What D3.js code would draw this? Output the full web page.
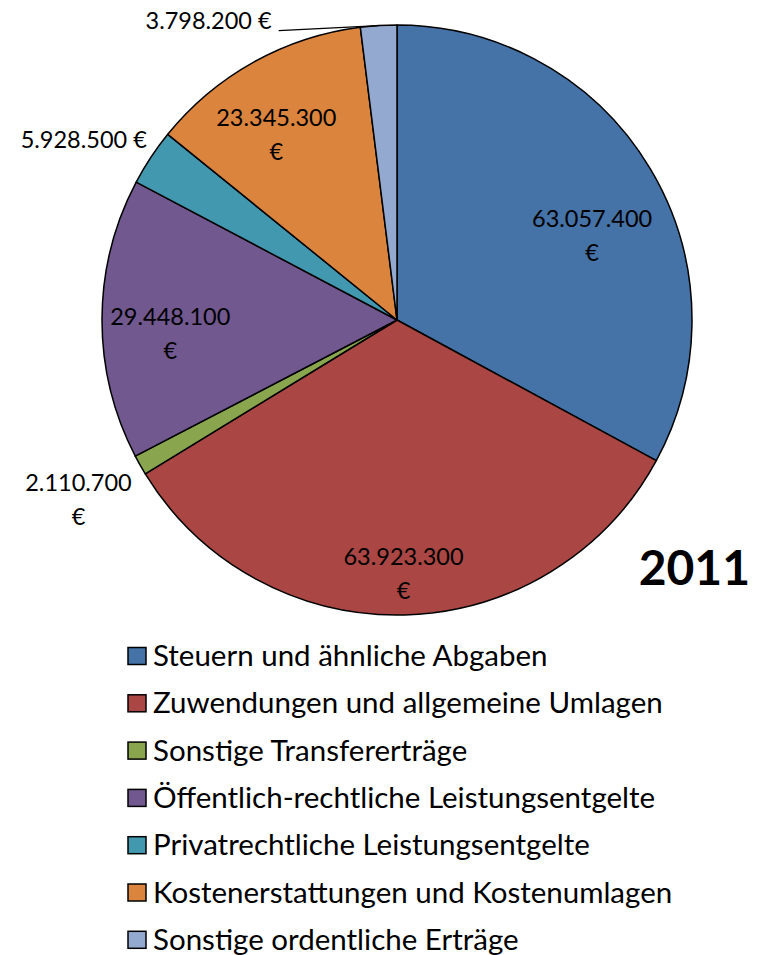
<!DOCTYPE html>
<html><head><meta charset="utf-8">
<script src="https://cdn.jsdelivr.net/npm/d3@7/dist/d3.min.js"></script>
<style>html,body{margin:0;padding:0;background:#fff;}svg{display:block;font-family:Lato,"Open Sans",sans-serif;}</style>
</head><body>
<script>
const categories = ["Steuern und ähnliche Abgaben","Zuwendungen und allgemeine Umlagen","Sonstige Transfererträge","Öffentlich-rechtliche Leistungsentgelte","Privatrechtliche Leistungsentgelte","Kostenerstattungen und Kostenumlagen","Sonstige ordentliche Erträge"];
const values = [63057400, 63923300, 2110700, 29448100, 5928500, 23345300, 3798200];
const colors = ["#4572A7","#AA4643","#89A54E","#71588F","#4198AF","#DB843D","#93A9CF"];
const year = "2011";
// label layout: placement mode, radius factor, angle shift (deg)
const labelLayout = [
  {mode:"in", r:0.72, da:7.5},
  {mode:"in", r:0.86, da:0},
  {mode:"out2", r:1.24, da:0},
  {mode:"in", r:0.77, da:-3.8},
  {mode:"outR", r:1.0, da:0},
  {mode:"in", r:0.75, da:-4},
  {mode:"leader", r:1.0, da:0}
];

const W=765,H=955, cx=397, cy=320, R=295;
const fmt = v => d3.format(",")(v).replace(/,/g,".");
const svg = d3.select("body").append("svg").attr("width",W).attr("height",H);
const pie = d3.pie().sort(null).value(d=>d)(values);
const arc = d3.arc().innerRadius(0).outerRadius(R);
const g = svg.append("g").attr("transform",`translate(${cx},${cy})`);
g.selectAll("path").data(pie).join("path")
  .attr("d",arc).attr("fill",(d,i)=>colors[i])
  .attr("stroke","#000").attr("stroke-width",1.5).attr("stroke-linejoin","round");

const pt = (a,r)=>[Math.sin(a)*r, -Math.cos(a)*r];
const fs = 23.5;
pie.forEach((d,i)=>{
  const L = labelLayout[i];
  const a = (d.startAngle+d.endAngle)/2 + L.da*Math.PI/180;
  const txt = fmt(values[i]);
  if(L.mode==="in"||L.mode==="out2"){
    const [x,y]=pt(a,R*L.r);
    const t=g.append("text").attr("text-anchor","middle").attr("font-size",fs).attr("fill","#000");
    t.append("tspan").attr("x",x).attr("y",y-17+8).text(txt);
    t.append("tspan").attr("x",x).attr("y",y+17+8).text("€");
  } else if(L.mode==="outR"){
    const [x,y]=pt(a,R);
    g.append("text").attr("text-anchor","end").attr("font-size",fs)
      .attr("x",x-4).attr("y",y-17+8).text(txt+" €");
  } else {
    const [x,y]=pt(a,R);
    const lx = x-100, ly = y+5;
    g.append("path").attr("d",`M${x},${y}L${lx},${ly}`).attr("stroke","#000").attr("stroke-width",1.2).attr("fill","none");
    g.append("text").attr("text-anchor","end").attr("font-size",fs)
      .attr("x",lx-7).attr("y",ly-2).text(txt+" €");
  }
});

svg.append("text").attr("x",750).attr("y",585).attr("text-anchor","end")
  .attr("font-size",48).attr("font-weight","bold").text(year);

const leg = svg.append("g");
const ly0=656, lstep=47.3;
categories.forEach((c,i)=>{
  const y=ly0+i*lstep;
  leg.append("rect").attr("x",128).attr("y",y-8.5).attr("width",18).attr("height",17)
    .attr("fill",colors[i]).attr("stroke","#000").attr("stroke-width",1.5);
  leg.append("text").attr("x",153).attr("y",y+10).attr("font-size",29.5).text(c);
});
</script>
</body></html>
